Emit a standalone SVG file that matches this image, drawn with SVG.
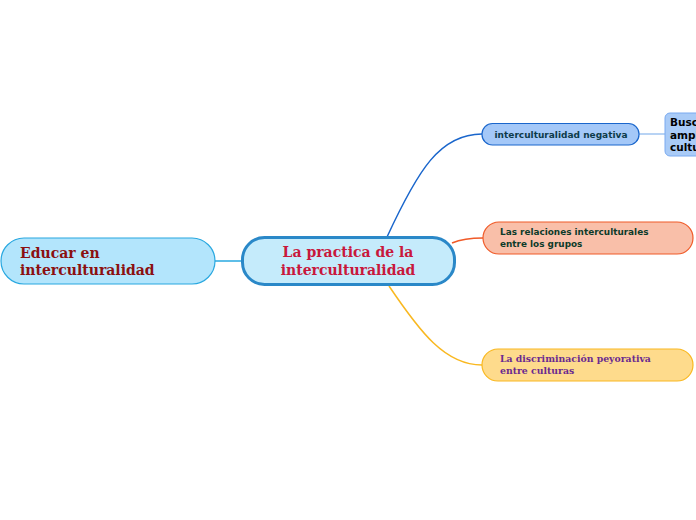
<svg xmlns="http://www.w3.org/2000/svg" width="696" height="520" viewBox="0 0 696 520">
<style>
.serif{font-family:"DejaVu Serif","Liberation Serif",serif;font-weight:bold}
.sans{font-family:"DejaVu Sans","Liberation Sans",sans-serif;font-weight:bold}
.conn{fill:none;stroke-width:1.5}
</style>
<rect width="696" height="520" fill="#ffffff"/>
<g id="connectors">
<path class="conn" d="M215,261 L242,261" stroke="#29a8e0"/>
<path class="conn" d="M387,237 C418,170 440,134 482,134" stroke="#1a66cc"/>
<path class="conn" d="M452,243 Q464,238 483,238" stroke="#f05a28"/>
<path class="conn" d="M389,286 C420,332 445,365 482,365" stroke="#f9b820"/>
<path class="conn" d="M639,134 L665,134" stroke="#a0c4f0" stroke-width="1"/>
</g>
<g id="node-educar">
<rect x="1" y="238" width="214" height="46" rx="23" fill="#b3e5fc" stroke="#29a8e0" stroke-width="1.2"/>
<text class="serif" font-size="14" fill="#8b1010"><tspan x="20" y="258">Educar en</tspan><tspan x="20" y="275">interculturalidad</tspan></text>
</g>
<g id="node-center">
<rect x="242.5" y="237.5" width="212" height="47" rx="22" fill="#c5ebfb" stroke="#2a88c8" stroke-width="3"/>
<text class="serif" font-size="14" fill="#c8183c" text-anchor="middle"><tspan x="348" y="257">La practica de la</tspan><tspan x="348" y="275">interculturalidad</tspan></text>
</g>
<g id="node-negativa">
<rect x="482" y="123.5" width="157" height="21.5" rx="10.5" fill="#a4c8f8" stroke="#1a66cc" stroke-width="1.2"/>
<text class="sans" font-size="9" fill="#0d3b4a" text-anchor="middle" x="561" y="137.5">interculturalidad negativa</text>
</g>
<g id="node-busc">
<rect x="665" y="113" width="40" height="43" rx="5" fill="#a9cbf7" stroke="#7aaaf0" stroke-width="1"/>
<text class="sans" font-size="10.5" fill="#000000"><tspan x="670" y="126">Busc</tspan><tspan x="670" y="138.5">ampl</tspan><tspan x="670" y="151">cultu</tspan></text>
</g>
<g id="node-relaciones">
<rect x="483" y="222" width="210" height="32" rx="16" fill="#f9bfa9" stroke="#f05a28" stroke-width="1.2"/>
<text class="sans" font-size="8.9" fill="#0d3b2a"><tspan x="500" y="235">Las relaciones interculturales</tspan><tspan x="500" y="247">entre los grupos</tspan></text>
</g>
<g id="node-discriminacion">
<rect x="482" y="349" width="211" height="32" rx="16" fill="#fedb8c" stroke="#f9b820" stroke-width="1.2"/>
<text class="serif" font-size="9.3" fill="#6a2a90"><tspan x="500" y="362">La discriminación peyorativa</tspan><tspan x="500" y="374">entre culturas</tspan></text>
</g>
</svg>
